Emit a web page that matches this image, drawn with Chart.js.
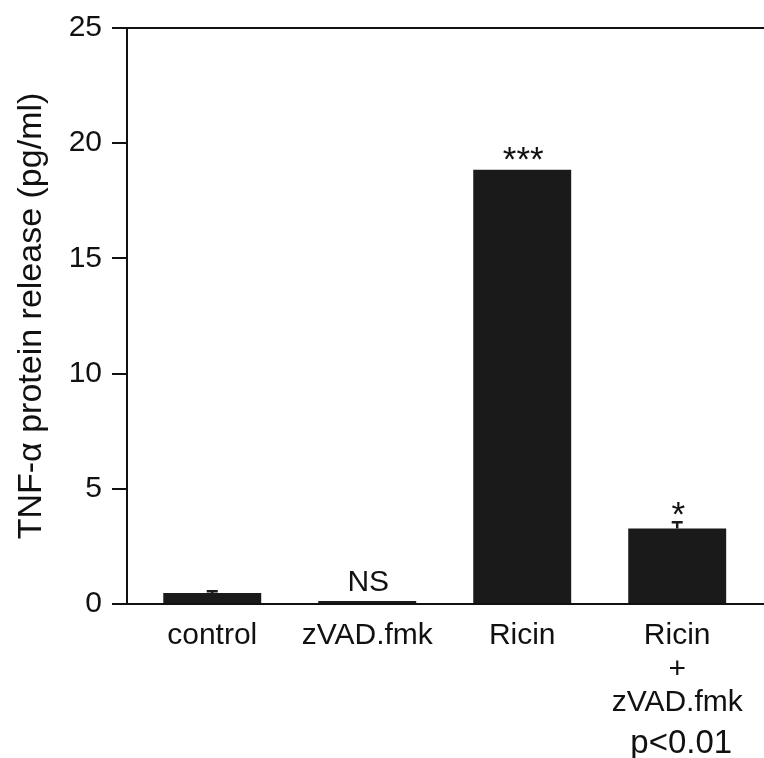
<!DOCTYPE html>
<html>
<head>
<meta charset="utf-8">
<script src="https://cdn.jsdelivr.net/npm/chart.js@4.4.1/dist/chart.umd.min.js"></script>
<style>
  html, body { margin: 0; padding: 0; background: #fff; overflow: hidden; }
  #wrap { width: 764px; height: 758px; position: relative; }
</style>
</head>
<body>
<div id="wrap"><canvas id="tnfChart"></canvas></div>
<script>
  // values (pg/ml)
  const groups = ['control', 'zVAD.fmk', 'Ricin', ['Ricin', '+', 'zVAD.fmk']];
  const tnfRelease = [0.48, 0.13, 18.85, 3.28];
  const tnfError = [0.12, 0, 0, 0.31];
  const sigLabels = ['', 'NS', '***', '*'];
  const yTicks = [0, 5, 10, 15, 20, 25];
  const footNote = 'p<0.01';

  const fontFamily = '"Liberation Sans", Arial, Helvetica, sans-serif';
  const ink = '#111111';
  const barFill = '#1a1a1a';

  // group position on the x axis: 1, 2, 3, 4
  const points = tnfRelease.map((v, i) => ({ x: i + 1, y: v }));

  const errorBars = {
    id: 'errorBars',
    afterDatasetsDraw(chart) {
      const { ctx } = chart;
      const meta = chart.getDatasetMeta(0);
      const yScale = chart.scales.y;
      ctx.save();
      ctx.strokeStyle = barFill;
      ctx.lineWidth = 2.5;
      meta.data.forEach((bar, i) => {
        if (!tnfError[i]) return;
        const top = yScale.getPixelForValue(tnfRelease[i] + tnfError[i]);
        ctx.beginPath();
        ctx.moveTo(bar.x, bar.y);
        ctx.lineTo(bar.x, top);
        ctx.moveTo(bar.x - 5.5, top + 1);
        ctx.lineTo(bar.x + 5.5, top + 1);
        ctx.stroke();
      });
      ctx.restore();
    }
  };

  const sigMarks = {
    id: 'sigMarks',
    afterDraw(chart) {
      const { ctx } = chart;
      const meta = chart.getDatasetMeta(0);
      const yScale = chart.scales.y;
      const xScale = chart.scales.x;
      ctx.save();
      ctx.fillStyle = ink;
      ctx.textAlign = 'center';
      ctx.textBaseline = 'alphabetic';
      meta.data.forEach((bar, i) => {
        const txt = sigLabels[i];
        if (!txt) return;
        ctx.font = (txt === 'NS' ? 30 : 35) + 'px ' + fontFamily;
        const top = yScale.getPixelForValue(tnfRelease[i] + tnfError[i]);
        const m = ctx.measureText(txt);
        const gap = tnfError[i] ? 6 : 10;
        ctx.fillText(txt, bar.x + 1, top - gap - m.actualBoundingBoxDescent);
      });

      // footnote under the last group
      ctx.font = '33px ' + fontFamily;
      ctx.fillText(footNote, xScale.getPixelForValue(groups.length) + 4, chart.height - 5);
      ctx.restore();
    }
  };

  new Chart(document.getElementById('tnfChart'), {
    type: 'bar',
    data: {
      datasets: [{
        data: points,
        backgroundColor: barFill,
        borderWidth: 0,
        barPercentage: 0.632,
        categoryPercentage: 1
      }]
    },
    options: {
      responsive: true,
      maintainAspectRatio: false,
      animation: false,
      layout: { padding: { top: 27, right: 0, bottom: 0, left: 0 } },
      plugins: {
        legend: { display: false },
        tooltip: { enabled: false }
      },
      scales: {
        x: {
          type: 'linear',
          offset: false,
          min: 0.45,
          max: 4.56,
          afterBuildTicks: (scale) => {
            scale.ticks = groups.map((g, i) => ({ value: i + 1 }));
          },
          afterFit: (scale) => { scale.height = 154; },
          grid: { display: false, drawTicks: false },
          border: { display: true, color: ink, width: 2 },
          ticks: {
            autoSkip: false,
            maxRotation: 0,
            padding: 15,
            color: ink,
            font: { family: fontFamily, size: 30, lineHeight: 1.12 },
            callback: (value) => groups[value - 1]
          }
        },
        y: {
          min: 0,
          max: 25,
          afterBuildTicks: (scale) => {
            scale.ticks = yTicks.map(v => ({ value: v }));
          },
          afterFit: (scale) => { scale.width = 127; },
          grid: {
            color: (c) => (c.tick && c.tick.value === 25 ? ink : 'rgba(0,0,0,0)'),
            lineWidth: 2,
            tickColor: ink,
            tickLength: 15
          },
          border: { display: true, color: ink, width: 2 },
          ticks: {
            padding: 10,
            color: ink,
            font: { family: fontFamily, size: 30 }
          },
          title: {
            display: true,
            text: 'TNF-α protein release (pg/ml)',
            color: ink,
            padding: { top: 11, bottom: 0 },
            font: { family: fontFamily, size: 34 }
          }
        }
      }
    },
    plugins: [errorBars, sigMarks]
  });
</script>
</body>
</html>
